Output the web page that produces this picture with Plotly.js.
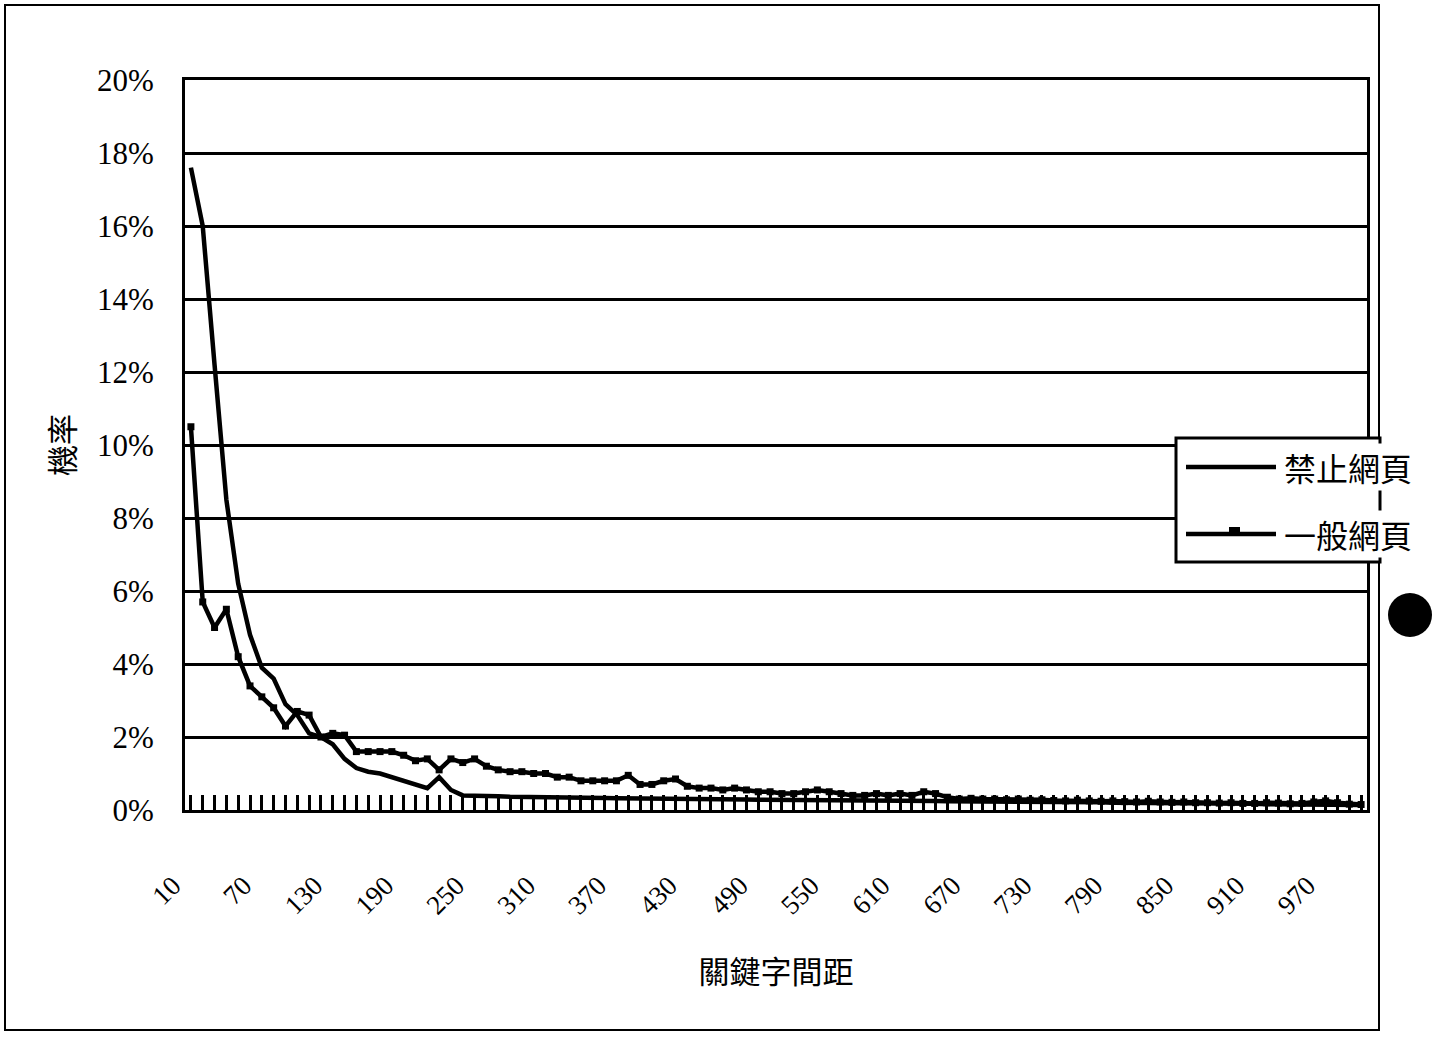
<!DOCTYPE html>
<html>
<head>
<meta charset="utf-8">
<script src="https://cdn.plot.ly/plotly-3.0.1.min.js"></script>
<style>html,body{margin:0;padding:0;background:#fff;}#chart{width:1432px;height:1037px;}</style>
</head>
<body>
<div id="chart"></div>
<script>
// Categories: keyword distance 10..1000 step 10
var distances = [10,20,30,40,50,60,70,80,90,100,110,120,130,140,150,160,170,180,190,200,
  210,220,230,240,250,260,270,280,290,300,310,320,330,340,350,360,370,380,390,400,
  410,420,430,440,450,460,470,480,490,500,510,520,530,540,550,560,570,580,590,600,
  610,620,630,640,650,660,670,680,690,700,710,720,730,740,750,760,770,780,790,800,
  810,820,830,840,850,860,870,880,890,900,910,920,930,940,950,960,970,980,990,1000];

// 禁止網頁 (%)
var forbidden = [17.6,16.0,12.2,8.5,6.2,4.8,3.9,3.6,2.9,2.6,
  2.1,2.0,1.8,1.4,1.15,1.05,1.0,0.9,0.8,0.7,
  0.6,0.9,0.55,0.4,0.4,0.38,0.38,0.36,0.36,0.35,
  0.35,0.34,0.34,0.33,0.33,0.33,0.32,0.32,0.31,0.31,
  0.3,0.3,0.3,0.3,0.3,0.29,0.29,0.29,0.28,0.28,
  0.28,0.28,0.27,0.27,0.27,0.27,0.26,0.26,0.26,0.26,
  0.25,0.25,0.25,0.25,0.24,0.24,0.24,0.24,0.23,0.23,
  0.23,0.22,0.22,0.22,0.22,0.21,0.21,0.21,0.2,0.2,
  0.2,0.2,0.19,0.19,0.19,0.18,0.18,0.18,0.17,0.17,
  0.17,0.16,0.16,0.16,0.15,0.15,0.15,0.15,0.14,0.14];

// 一般網頁 (%)
var general = [10.5,5.7,5.0,5.5,4.2,3.4,3.1,2.8,2.3,2.7,
  2.6,2.0,2.1,2.05,1.6,1.6,1.6,1.6,1.5,1.35,
  1.4,1.1,1.4,1.3,1.4,1.2,1.1,1.05,1.05,1.0,
  1.0,0.9,0.9,0.8,0.8,0.8,0.8,0.95,0.7,0.7,
  0.8,0.85,0.65,0.6,0.6,0.55,0.6,0.55,0.5,0.5,
  0.45,0.45,0.5,0.55,0.5,0.45,0.4,0.4,0.45,0.4,
  0.45,0.4,0.5,0.45,0.35,0.3,0.32,0.3,0.3,0.28,
  0.3,0.27,0.28,0.26,0.25,0.27,0.25,0.24,0.25,0.23,
  0.22,0.24,0.22,0.21,0.22,0.2,0.2,0.19,0.2,0.18,
  0.18,0.2,0.19,0.17,0.18,0.22,0.25,0.2,0.16,0.15];

var xTickLabels = ['10','70','130','190','250','310','370','430','490','550','610','670','730','790','850','910','970'];
var yTickValues = [0,2,4,6,8,10,12,14,16,18,20];
var yTickLabels = ['0%','2%','4%','6%','8%','10%','12%','14%','16%','18%','20%'];

var seriesNames = ['禁止網頁','一般網頁'];

// ticks at every category, labels only at the listed ones
var tickText = distances.map(function(d){ return xTickLabels.indexOf(String(d)) >= 0 ? String(d) : ''; });

var serif = 'Liberation Serif, Times New Roman, serif';
var cjk = 'Noto Sans CJK TC, Noto Sans CJK SC, sans-serif';

var traces = [
  {x: distances, y: forbidden, name: seriesNames[0], type: 'scatter', mode: 'lines',
   line: {color: '#000', width: 4.5}},
  {x: distances, y: general, name: seriesNames[1], type: 'scatter', mode: 'lines+markers',
   line: {color: '#000', width: 4.5},
   marker: {symbol: 'square', size: 7, color: '#000'}}
];

var W = 1182, H = 730, L = 185, T = 80;
function px(x){ return (x - L) / W; }
function py(y){ return (T + H - y) / H; }

// legend drawn as a box with sample lines and labels
var legendRows = [467, 534];
var shapes = [
  {type: 'rect', xref: 'paper', yref: 'paper', x0: px(5), x1: px(1379), y0: py(1030), y1: py(5),
   line: {color: '#000', width: 2}, fillcolor: 'rgba(0,0,0,0)', layer: 'below'},
  {type: 'circle', xref: 'paper', yref: 'paper', x0: px(1388), x1: px(1432), y0: py(637), y1: py(593),
   line: {color: '#000', width: 0}, fillcolor: '#000'},
  {type: 'rect', xref: 'paper', yref: 'paper', x0: px(1176), x1: px(1380), y0: py(562), y1: py(438),
   line: {color: '#000', width: 3}, fillcolor: '#fff', layer: 'above'},
  {type: 'line', xref: 'paper', yref: 'paper', x0: px(1186), x1: px(1276), y0: py(legendRows[0]), y1: py(legendRows[0]),
   line: {color: '#000', width: 4.5}, layer: 'above'},
  {type: 'line', xref: 'paper', yref: 'paper', x0: px(1186), x1: px(1276), y0: py(legendRows[1]), y1: py(legendRows[1]),
   line: {color: '#000', width: 4.5}, layer: 'above'},
  {type: 'rect', xref: 'paper', yref: 'paper', x0: px(1229), x1: px(1240), y0: py(legendRows[1] + 2), y1: py(legendRows[1] - 7),
   line: {color: '#000', width: 0}, fillcolor: '#000', layer: 'above'}
];
var annotations = seriesNames.map(function(n, i){
  return {xref: 'paper', yref: 'paper', x: px(1283), y: py(legendRows[i]), xanchor: 'left', yanchor: 'middle',
    text: n, showarrow: false, bgcolor: '#fff', borderpad: 0,
    font: {family: cjk, size: 32, color: '#000'}};
});

var layout = {
  width: 1432, height: 1037,
  margin: {l: 185, r: 65, t: 80, b: 227},
  paper_bgcolor: '#fff', plot_bgcolor: '#fff',
  showlegend: false,
  xaxis: {
    type: 'linear', range: [5, 1005],
    tickmode: 'array', tickvals: distances, ticktext: tickText,
    ticks: 'inside', ticklen: 15, tickwidth: 3, tickcolor: '#000',
    tickangle: -45, ticklabelstandoff: 46, ticklabelshift: -18,
    tickfont: {family: serif, size: 27, color: '#000'},
    showgrid: false, zeroline: false,
    showline: true, linecolor: '#000', linewidth: 3, mirror: true,
    title: {text: '關鍵字間距', font: {family: cjk, size: 31, color: '#000'}, standoff: 42},
    automargin: false, fixedrange: true
  },
  yaxis: {
    range: [0, 20], tickmode: 'array', tickvals: yTickValues, ticktext: yTickLabels,
    ticks: '', ticklabelstandoff: 22,
    tickfont: {family: serif, size: 31, color: '#000'},
    showgrid: true, gridcolor: '#000', gridwidth: 3,
    zeroline: false,
    showline: true, linecolor: '#000', linewidth: 3, mirror: true,
    title: {text: '機率', font: {family: cjk, size: 31, color: '#000'}, standoff: 14},
    automargin: false, fixedrange: true
  },
  shapes: shapes,
  annotations: annotations
};

Plotly.newPlot('chart', traces, layout, {displayModeBar: false, staticPlot: true});
</script>
</body>
</html>
